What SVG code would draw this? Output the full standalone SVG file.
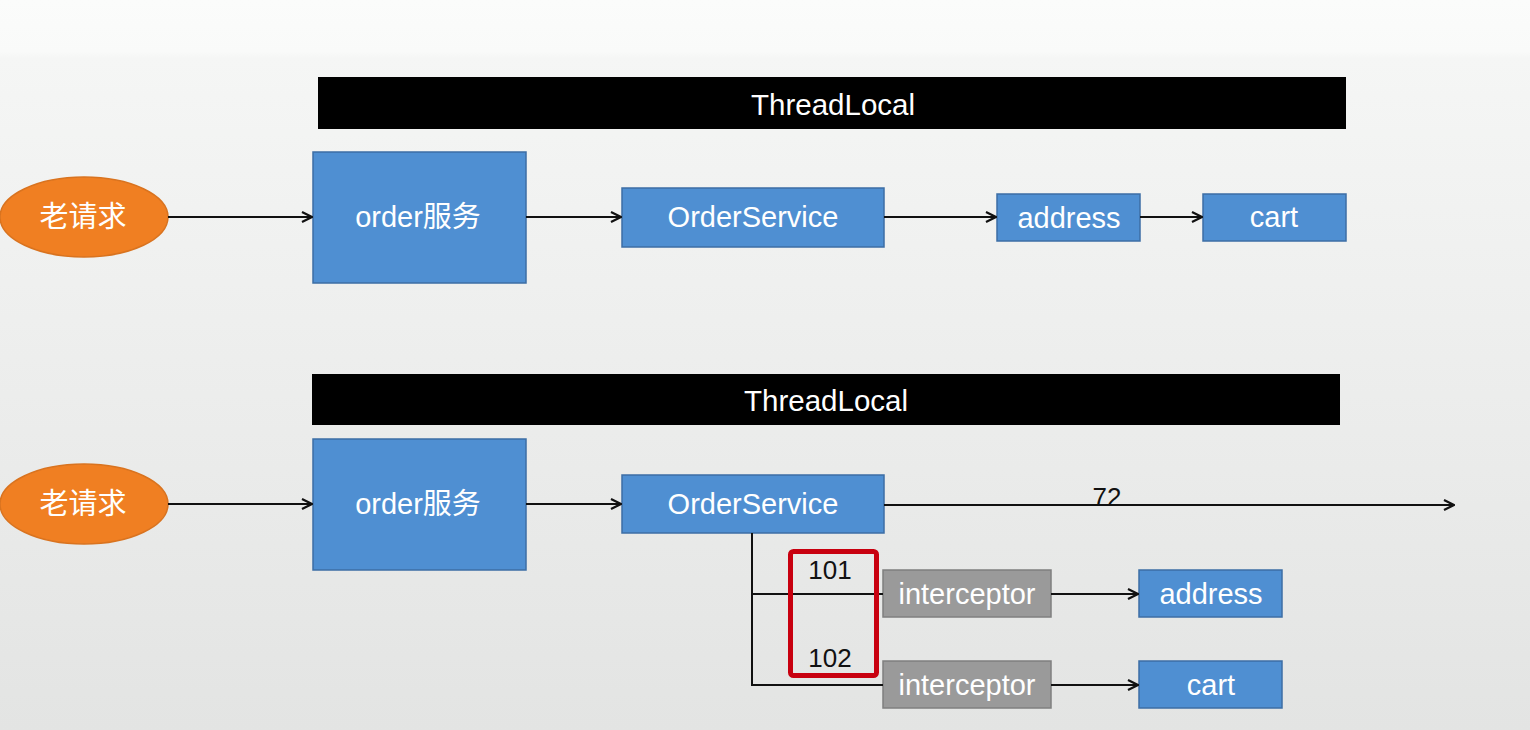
<svg xmlns="http://www.w3.org/2000/svg" width="1530" height="730" viewBox="0 0 1530 730">
<defs>
<linearGradient id="bg" x1="0" y1="0" x2="0" y2="1">
<stop offset="0" stop-color="#fbfcfb"/>
<stop offset="0.07" stop-color="#f9faf9"/>
<stop offset="0.08" stop-color="#f5f6f5"/>
<stop offset="1" stop-color="#e3e4e3"/>
</linearGradient>
<marker id="arr" viewBox="0 0 12 12" refX="11" refY="6" markerWidth="12" markerHeight="12" markerUnits="userSpaceOnUse" orient="auto">
<path d="M1,1 L11,6 L1,11" fill="none" stroke="#111" stroke-width="2.2"/>
</marker>
<style>
.bar{fill:#000}
.bar-t{fill:#fff;font-family:"Liberation Sans",Arial,sans-serif;font-size:29.5px;text-anchor:middle;dominant-baseline:central}
.ell{fill:#f07f22;stroke:#d9731f;stroke-width:1.5}
.box{fill:#4f8fd2;stroke:#3c6ea5;stroke-width:1.5}
.gray{fill:#9a9a9a;stroke:#7f7f7f;stroke-width:1.5}
.t{fill:#fff;font-family:"Liberation Sans","Noto Sans CJK SC",sans-serif;font-size:29px;text-anchor:middle;dominant-baseline:central}
.n{fill:#111;font-family:"Liberation Sans",Arial,sans-serif;font-size:26px;text-anchor:middle;dominant-baseline:central}
.c{fill:none;stroke:#111;stroke-width:2}
</style>
</defs>
<rect x="0" y="0" width="1530" height="730" fill="url(#bg)"/>

<g id="threadlocal1"><rect class="bar" x="318" y="77" width="1028" height="52"/><text class="bar-t" x="833" y="104">ThreadLocal</text></g>
<g id="req1"><ellipse class="ell" cx="84" cy="217" rx="84" ry="40"/><text class="t" x="83" y="217">老请求</text></g>
<g id="order1"><rect class="box" x="313" y="152" width="213" height="131"/><text class="t" x="418" y="217">order服务</text></g>
<g id="os1"><rect class="box" x="622" y="188" width="262" height="59"/><text class="t" x="753" y="217">OrderService</text></g>
<g id="addr1"><rect class="box" x="997" y="194" width="143" height="47"/><text class="t" x="1069" y="218">address</text></g>
<g id="cart1"><rect class="box" x="1203" y="194" width="143" height="47"/><text class="t" x="1274" y="217">cart</text></g>

<g id="threadlocal2"><rect class="bar" x="312" y="374" width="1028" height="51"/><text class="bar-t" x="826" y="400">ThreadLocal</text></g>
<g id="req2"><ellipse class="ell" cx="84" cy="504" rx="84" ry="40"/><text class="t" x="83" y="504">老请求</text></g>
<g id="order2"><rect class="box" x="313" y="439" width="213" height="131"/><text class="t" x="418" y="504">order服务</text></g>
<g id="os2"><rect class="box" x="622" y="475" width="262" height="58"/><text class="t" x="753" y="504">OrderService</text></g>
<g id="int1"><rect class="gray" x="883" y="570" width="168" height="47"/><text class="t" x="967" y="594">interceptor</text></g>
<g id="int2"><rect class="gray" x="883" y="661" width="168" height="47"/><text class="t" x="967" y="685">interceptor</text></g>
<g id="addr2"><rect class="box" x="1139" y="570" width="143" height="47"/><text class="t" x="1211" y="594">address</text></g>
<g id="cart2"><rect class="box" x="1139" y="661" width="143" height="47"/><text class="t" x="1211" y="685">cart</text></g>

<g id="connectors">
<line class="c" x1="168" y1="217" x2="312" y2="217" marker-end="url(#arr)"/>
<line class="c" x1="526" y1="217" x2="621" y2="217" marker-end="url(#arr)"/>
<line class="c" x1="884" y1="217" x2="996" y2="217" marker-end="url(#arr)"/>
<line class="c" x1="1140" y1="217" x2="1202" y2="217" stroke-width="3" marker-end="url(#arr)"/>
<line class="c" x1="168" y1="504" x2="312" y2="504" marker-end="url(#arr)"/>
<line class="c" x1="526" y1="504" x2="621" y2="504" marker-end="url(#arr)"/>
<line class="c" x1="884" y1="505" x2="1454" y2="505" marker-end="url(#arr)"/>
<polyline class="c" points="752,533 752,685 883,685"/>
<line class="c" x1="752" y1="594" x2="883" y2="594"/>
<line class="c" x1="1051" y1="594" x2="1138" y2="594" marker-end="url(#arr)"/>
<line class="c" x1="1051" y1="685" x2="1138" y2="685" marker-end="url(#arr)"/>
</g>

<g id="labels">
<text class="n" x="1107" y="497">72</text>
<text class="n" x="830" y="570">101</text>
<text class="n" x="830" y="658">102</text>
</g>
<g id="highlight"><rect x="790.5" y="551.5" width="86" height="124" rx="3" fill="none" stroke="#c8000f" stroke-width="5"/></g>
</svg>
